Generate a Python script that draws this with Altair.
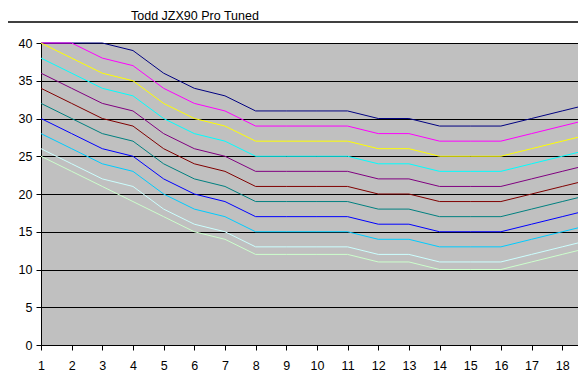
import altair as alt
import pandas as pd

FONT = "Liberation Sans"

title_text = "Todd JZX90 Pro Tuned"
x_values = list(range(1, 20))
x_tick_labels = list(range(1, 19))
y_tick_values = [0, 5, 10, 15, 20, 25, 30, 35, 40]

series_names = ["Series1", "Series2", "Series3", "Series4", "Series5", "Series6",
                "Series7", "Series8", "Series9", "Series10", "Series11"]
series_colors = ["#000080", "#FF00FF", "#FFFF00", "#00FFFF", "#800080", "#800000",
                 "#008080", "#0000FF", "#00CCFF", "#CCFFFF", "#CCFFCC"]

s1 = [44, 42, 40, 39, 36, 34, 33, 31, 31, 31, 31, 30, 30, 29, 29, 29, 30, 31, 32]
s2 = [42, 40, 38, 37, 34, 32, 31, 29, 29, 29, 29, 28, 28, 27, 27, 27, 28, 29, 30]
s3 = [40, 38, 36, 35, 32, 30, 29, 27, 27, 27, 27, 26, 26, 25, 25, 25, 26, 27, 28]
s4 = [38, 36, 34, 33, 30, 28, 27, 25, 25, 25, 25, 24, 24, 23, 23, 23, 24, 25, 26]
s5 = [36, 34, 32, 31, 28, 26, 25, 23, 23, 23, 23, 22, 22, 21, 21, 21, 22, 23, 24]
s6 = [34, 32, 30, 29, 26, 24, 23, 21, 21, 21, 21, 20, 20, 19, 19, 19, 20, 21, 22]
s7 = [32, 30, 28, 27, 24, 22, 21, 19, 19, 19, 19, 18, 18, 17, 17, 17, 18, 19, 20]
s8 = [30, 28, 26, 25, 22, 20, 19, 17, 17, 17, 17, 16, 16, 15, 15, 15, 16, 17, 18]
s9 = [28, 26, 24, 23, 20, 18, 17, 15, 15, 15, 15, 14, 14, 13, 13, 13, 14, 15, 16]
s10 = [26, 24, 22, 21, 18, 16, 15, 13, 13, 13, 13, 12, 12, 11, 11, 11, 12, 13, 14]
s11 = [25, 23, 21, 19, 17, 15, 14, 12, 12, 12, 12, 11, 11, 10, 10, 10, 11, 12, 13]

all_series = [s1, s2, s3, s4, s5, s6, s7, s8, s9, s10, s11]

rows = []
for name, vals in zip(series_names, all_series):
    for x, v in zip(x_values, vals):
        rows.append({"series": name, "x": x, "value": v})
df = pd.DataFrame(rows)

# visible part of the category axis (the original is cut off just before 19)
x_scale = alt.Scale(domain=[1, 18.515], nice=False, zero=False)
y_scale = alt.Scale(domain=[0, 40], nice=False, zero=True, clamp=True)

x_axis = alt.Axis(values=x_tick_labels, grid=False, tickSize=5, labelPadding=9,
                  title=None, domainColor="black", tickColor="black",
                  labelColor="black", labelFont=FONT, labelFontSize=12.5,
                  labelAngle=0, format="d", labelFlush=False, labelOverlap=False,
                  domainWidth=1, tickWidth=1)
y_axis = alt.Axis(values=y_tick_values, grid=True, gridColor="black", gridWidth=1,
                  gridOpacity=1, tickSize=5, labelPadding=4, title=None,
                  domainColor="black", tickColor="black", labelColor="black",
                  labelFont=FONT, labelFontSize=12.5, format="d",
                  labelFlush=False, labelOverlap=False, domainWidth=1, tickWidth=1)

base = alt.Chart(df)
layers = []
for name, color in zip(series_names, series_colors):
    layers.append(
        base.transform_filter(alt.datum.series == name)
        .mark_line(color=color, strokeWidth=1)
        .encode(
            x=alt.X("x:Q", scale=x_scale, axis=x_axis),
            y=alt.Y("value:Q", scale=y_scale, axis=y_axis),
        )
    )

title_df = pd.DataFrame({"t": [title_text]})
title_layer = alt.Chart(title_df).mark_text(
    align="left", baseline="alphabetic", font=FONT, fontSize=12.5, color="black"
).encode(text="t:N", x=alt.value(90), y=alt.value(-23.5))

header_line = alt.Chart(title_df).mark_rule(color="black", strokeWidth=1.5).encode(
    x=alt.value(-33), x2=alt.value(537), y=alt.value(-21)
)

chart = alt.layer(*layers, title_layer, header_line).properties(
    width=537,
    height=302,
    autosize=alt.AutoSizeParams(type="none"),
    padding={"left": 33, "top": 35, "right": 0, "bottom": 28},
    background="white",
).configure_view(fill="#C0C0C0", strokeWidth=0)

chart.save("out.html", embed_options={"renderer": "svg", "actions": False})
